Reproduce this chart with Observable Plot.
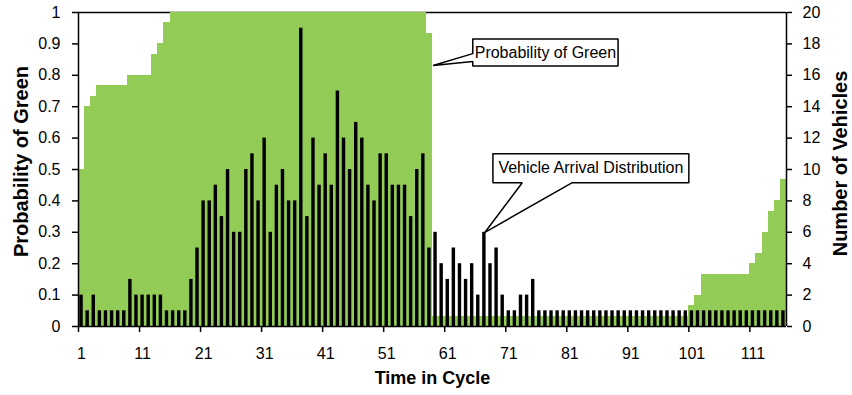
<!DOCTYPE html>
<html>
<head>
<meta charset="utf-8">
<script src="https://cdn.jsdelivr.net/npm/d3@7"></script>
<script src="https://cdn.jsdelivr.net/npm/@observablehq/plot@0.6"></script>
<style>
  html, body { margin: 0; padding: 0; background: #fff; }
  #chart svg { display: block; }
</style>
</head>
<body>
<div id="chart"></div>
<script>
// Probability that the signal is green at each second of the cycle (left axis)
const probGreen = [
  0.5, 0.7, 0.733, 0.767, 0.767, 0.767, 0.767, 0.767, 0.8, 0.8,
  0.8, 0.8, 0.867, 0.9, 0.967, 1, 1, 1, 1, 1,
  1, 1, 1, 1, 1, 1, 1, 1, 1, 1,
  1, 1, 1, 1, 1, 1, 1, 1, 1, 1,
  1, 1, 1, 1, 1, 1, 1, 1, 1, 1,
  1, 1, 1, 1, 1, 1, 1, 0.933, 0.033, 0.033,
  0.033, 0.033, 0.033, 0.033, 0.033, 0.033, 0.033, 0.033, 0.033, 0.033,
  0.033, 0.033, 0.033, 0.033, 0.033, 0.033, 0.033, 0.033, 0.033, 0.033,
  0.033, 0.033, 0.033, 0.033, 0.033, 0.033, 0.033, 0.033, 0.033, 0.033,
  0.033, 0.033, 0.033, 0.033, 0.033, 0.033, 0.033, 0.033, 0.033, 0.033,
  0.067, 0.1, 0.167, 0.167, 0.167, 0.167, 0.167, 0.167, 0.167, 0.167,
  0.2, 0.233, 0.3, 0.367, 0.4, 0.467
];

// Vehicles arriving at each second of the cycle (right axis)
const vehicles = [
  2, 1, 2, 1, 1, 1, 1, 1, 3, 2,
  2, 2, 2, 2, 1, 1, 1, 1, 3, 5,
  8, 8, 9, 7, 10, 6, 6, 10, 11, 8,
  12, 6, 9, 10, 8, 8, 19, 7, 12, 9,
  11, 9, 15, 12, 10, 13, 12, 9, 8, 11,
  11, 9, 9, 9, 7, 10, 11, 5, 6, 4,
  3, 5, 4, 3, 4, 2, 6, 4, 5, 2,
  1, 1, 2, 2, 3, 1, 1, 1, 1, 1,
  1, 1, 1, 1, 1, 1, 1, 1, 1, 1,
  1, 1, 1, 1, 1, 1, 1, 1, 1, 1,
  1, 1, 1, 1, 1, 1, 1, 1, 1, 1,
  1, 1, 1, 1, 1, 1
];

const xTickLabels = [1, 11, 21, 31, 41, 51, 61, 71, 81, 91, 101, 111];
const probTicks = [0, 0.1, 0.2, 0.3, 0.4, 0.5, 0.6, 0.7, 0.8, 0.9, 1];
const vehicleTicks = [0, 2, 4, 6, 8, 10, 12, 14, 16, 18, 20];
const vehicleMax = 20;

// Callout outlines in data units (time in cycle, probability)
const greenCalloutX = [65.1, 88.9, 88.9, 65.1, 65.1, 58.6, 65.1, 65.1];
const greenCalloutY = [0.916, 0.916, 0.83, 0.83, 0.844, 0.831, 0.869, 0.916];
const arrivalCalloutX = [68.4, 100.5, 100.5, 81.4, 67.1, 73.2, 68.4, 68.4];
const arrivalCalloutY = [0.55, 0.55, 0.458, 0.458, 0.3, 0.458, 0.458, 0.55];

const rows = probGreen.map((p, i) => ({t: i + 1, p, v: vehicles[i]}));
const outline = (xs, ys) => xs.map((x, i) => ({x, y: ys[i]}));

const green = "#92cb56";
const font = "'Liberation Sans', Arial, sans-serif";

const chart = Plot.plot({
  width: 852,
  height: 395,
  marginLeft: 78,
  marginRight: 66,
  marginTop: 12,
  marginBottom: 69,
  x: {domain: [0.5, rows.length + 0.5]},
  y: {domain: [0, 1]},
  style: {fontFamily: font, fontSize: "16px", color: "black", background: "white"},
  marks: [
    // plot-area top border sits behind the series
    Plot.ruleY([1], {stroke: "black", strokeWidth: 1.5}),
    // probability of green as a stepped area
    Plot.rect(rows, {
      x1: d => d.t - 0.5, x2: d => d.t + 0.5, y1: 0, y2: "p",
      fill: green, shapeRendering: "crispEdges"
    }),
    // vehicle arrivals on the secondary scale
    Plot.rect(rows, {
      x1: d => d.t - 0.28, x2: d => d.t + 0.28, y1: 0, y2: d => d.v / vehicleMax,
      fill: "black"
    }),
    Plot.ruleX([0.5, rows.length + 0.5], {stroke: "black", strokeWidth: 1.5}),
    Plot.ruleY([0], {stroke: "black", strokeWidth: 1.5}),
    Plot.axisY({
      anchor: "left", ticks: probTicks, tickFormat: d => String(d),
      tickSize: 6, tickPadding: 12, strokeWidth: 1.5, label: null
    }),
    Plot.axisY({
      anchor: "right", ticks: vehicleTicks.map(v => v / vehicleMax),
      tickFormat: d => String(Math.round(d * vehicleMax)),
      tickSize: 5, tickPadding: 11, strokeWidth: 1.5, label: null
    }),
    Plot.axisX({
      ticks: xTickLabels.map(t => t - 0.5), tickFormat: () => "",
      tickSize: 6, strokeWidth: 1.5, label: null
    }),
    Plot.axisX({
      ticks: xTickLabels, tickFormat: d => String(d),
      tickSize: 0, tickPadding: 21, label: null
    }),
    // axis titles
    Plot.text(["Probability of Green"], {
      frameAnchor: "left", rotate: -90, dx: -57, dy: -8,
      textAnchor: "middle", lineAnchor: "middle",
      fontWeight: "bold", fontSize: 20
    }),
    Plot.text(["Number of Vehicles"], {
      frameAnchor: "right", rotate: -90, dx: 54, dy: -6,
      textAnchor: "middle", lineAnchor: "middle",
      fontWeight: "bold", fontSize: 20
    }),
    Plot.text(["Time in Cycle"], {
      frameAnchor: "bottom", dy: 52, lineAnchor: "middle",
      fontWeight: "bold", fontSize: 18
    }),
    // callouts
    Plot.line(outline(greenCalloutX, greenCalloutY), {
      x: "x", y: "y", fill: "white", stroke: "black", strokeWidth: 1.5,
      strokeLinejoin: "miter", curve: "linear"
    }),
    Plot.text(["Probability of Green"], {
      x: (greenCalloutX[0] + greenCalloutX[1]) / 2,
      y: (greenCalloutY[0] + greenCalloutY[2]) / 2,
      fontSize: 16
    }),
    Plot.line(outline(arrivalCalloutX, arrivalCalloutY), {
      x: "x", y: "y", fill: "white", stroke: "black", strokeWidth: 1.5,
      strokeLinejoin: "miter", curve: "linear"
    }),
    Plot.text(["Vehicle Arrival Distribution"], {
      x: (arrivalCalloutX[0] + arrivalCalloutX[1]) / 2,
      y: (arrivalCalloutY[0] + arrivalCalloutY[2]) / 2,
      fontSize: 16
    })
  ]
});

document.getElementById("chart").appendChild(chart);
</script>
</body>
</html>
